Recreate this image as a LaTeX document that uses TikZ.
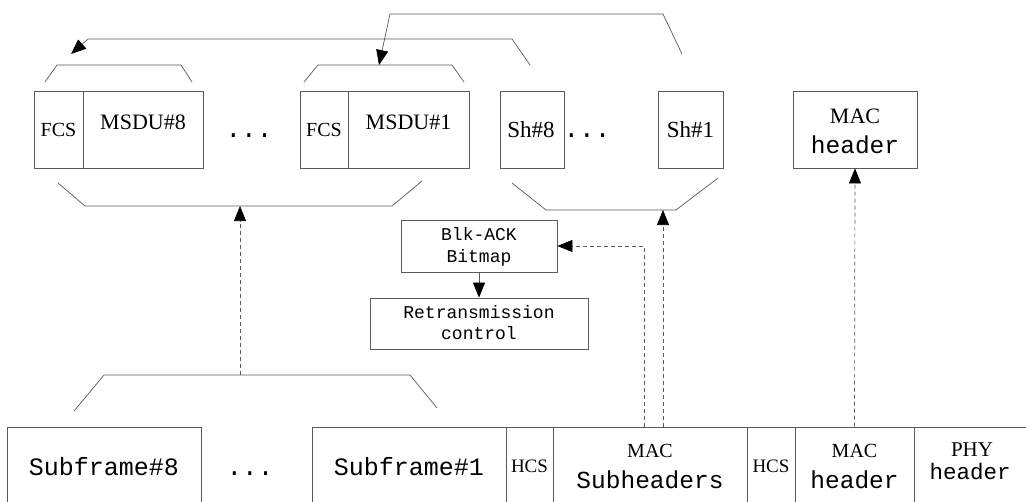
\documentclass[tikz,border=0pt]{standalone}
\usepackage{fontspec}
\setmainfont{Liberation Serif}
\newfontfamily\monof{Liberation Mono}
\usetikzlibrary{arrows.meta}
\definecolor{ln}{RGB}{90,90,90}
\begin{document}
\begin{tikzpicture}[x=1pt,y=-1pt,
  box/.style={draw=ln, line width=0.8pt, inner sep=0pt, rectangle, minimum height=77pt},
  bbox/.style={draw=ln, line width=0.8pt, inner sep=0pt, rectangle, minimum height=113pt},
  sbox/.style={draw=ln, line width=0.8pt, inner sep=0pt, rectangle, minimum height=52pt},
  brk/.style={draw=ln, line width=0.7pt},
  conn/.style={draw=ln, line width=0.7pt, -{Triangle[length=15pt,width=12pt,color=black]}},
  dconn/.style={conn, dashed, dash pattern=on 4pt off 3pt},
  lab/.style={anchor=base, inner sep=0pt, text=black},
  ser/.style={lab, font=\fontsize{20}{22}\selectfont},
  mon/.style={lab, font=\monof\fontsize{24.5}{26}\selectfont},
  smon/.style={lab, font=\monof\fontsize{18}{20}\selectfont},
  dots/.style={lab, font=\monof\fontsize{26}{28}\selectfont}
]
\useasboundingbox (0,0) rectangle (1026,501);
\clip (0,0) rectangle (1026,501);
\fill[white] (0,0) rectangle (1026,501);

% top row boxes
\node[box, minimum width=49pt] (fcs8) at (58.5,129.5) {};
\node[box, minimum width=120pt] (msdu8) at (143,129.5) {};
\node[box, minimum width=48pt] (fcs1) at (324,129.5) {};
\node[box, minimum width=121pt] (msdu1) at (408.5,129.5) {};
\node[box, minimum width=64pt] (sh8) at (532,129.5) {};
\node[box, minimum width=65pt] (sh1) at (690.5,129.5) {};
\node[box, minimum width=124pt] (mach) at (855,129.5) {};

\node[ser] (tfcs8) at (58.5,136) {FCS};
\node[ser, font=\fontsize{22}{24}\selectfont] (tmsdu8) at (143,129) {MSDU\#8};
\node[ser] (tfcs1) at (324,136) {FCS};
\node[ser, font=\fontsize{22}{24}\selectfont] (tmsdu1) at (408.5,129) {MSDU\#1};
\node[dots] (d1) at (249,137) {...};
\node[ser, font=\fontsize{23}{25}\selectfont] (tsh8) at (531,137) {Sh\#8};
\node[dots] (d2) at (587,137) {...};
\node[ser, font=\fontsize{23}{25}\selectfont] (tsh1) at (690.5,137) {Sh\#1};
\node[ser, font=\fontsize{22}{24}\selectfont] (tmac1) at (855,123) {MAC};
\node[mon] (thead1) at (855,153) {header};

% middle boxes
\node[sbox, minimum width=156pt] (blk) at (479,246) {};
\node[sbox, minimum width=218pt, minimum height=51pt] (ret) at (479,323.5) {};
\node[smon] (tblk1) at (479,240) {Blk-ACK};
\node[smon] (tblk2) at (479,262) {Bitmap};
\node[smon] (tret1) at (479,318) {Retransmission};
\node[smon] (tret2) at (479,339) {control};

% bottom row boxes
\node[bbox, minimum width=194pt] (sf8) at (104,483.5) {};
\node[bbox, minimum width=194pt] (sf1) at (409,483.5) {};
\node[bbox, minimum width=47pt] (hcs1) at (529.5,483.5) {};
\node[bbox, minimum width=194pt] (msub) at (650,483.5) {};
\node[bbox, minimum width=48pt] (hcs2) at (771,483.5) {};
\node[bbox, minimum width=119pt] (bmac) at (854.5,483.5) {};
\node[bbox, minimum width=120pt] (phy) at (974,483.5) {};

\node[mon, font=\monof\fontsize{25}{27}\selectfont] (tsf8) at (104,475) {Subframe\#8};
\node[dots] (d3) at (250,475) {...};
\node[mon, font=\monof\fontsize{25}{27}\selectfont] (tsf1) at (409,475) {Subframe\#1};
\node[ser, font=\fontsize{19}{21}\selectfont] (thcs1) at (529.5,472) {HCS};
\node[ser, text depth=0pt] (tmac2) at (650,457) {MAC};
\node[mon] (tsub) at (650,488) {Subheaders};
\node[ser, font=\fontsize{19}{21}\selectfont] (thcs2) at (771,472) {HCS};
\node[ser, text depth=0pt] (tmac3) at (854.5,457) {MAC};
\node[mon] (thead2) at (854.5,488) {header};
\node[ser, font=\fontsize{21}{23}\selectfont, text depth=0pt] (tphy) at (972,456) {PHY};
\node[mon, font=\monof\fontsize{22.5}{24}\selectfont, text height=15pt] (thead3) at (970,479) {header};

% brackets
\draw[brk] (45,82) -- (57,65) -- (181,65) -- (192,82);
\draw[brk] (304,82) -- (318,65) -- (452,65) -- (464,82);
\draw[brk] (58,183) -- (85,206) -- (392,206) -- (422,181);
\draw[brk] (512,183) -- (546,210) -- (676,210) -- (718,178);
\draw[brk] (74,411) -- (104,375) -- (410,375) -- (437,408);

% named ends
\coordinate (msbr) at (240,206);
\coordinate (sfbr) at (240,375);
\coordinate (shbr) at (663,210);
\coordinate (a1s) at (530,65);
\coordinate (a1e) at (71,54);
\coordinate (a2s) at (682,54);
\coordinate (a2e) at (379,65);

% connectors
\draw[dconn] (sfbr) -- (msbr);
\draw[dconn] ([xshift=13pt]msub.north) -- (shbr);
\draw[dconn] ([xshift=-6pt]msub.north) |- (blk.east);
\draw[dconn] (bmac.north) -- (mach.south);
\draw[conn] (blk.south) -- (ret.north);
\draw[conn] (a1s) -- (512,39) -- (88,39) -- (a1e);
\draw[conn] (a2s) -- (663,14) -- (390,14) -- (a2e);
\end{tikzpicture}
\end{document}
